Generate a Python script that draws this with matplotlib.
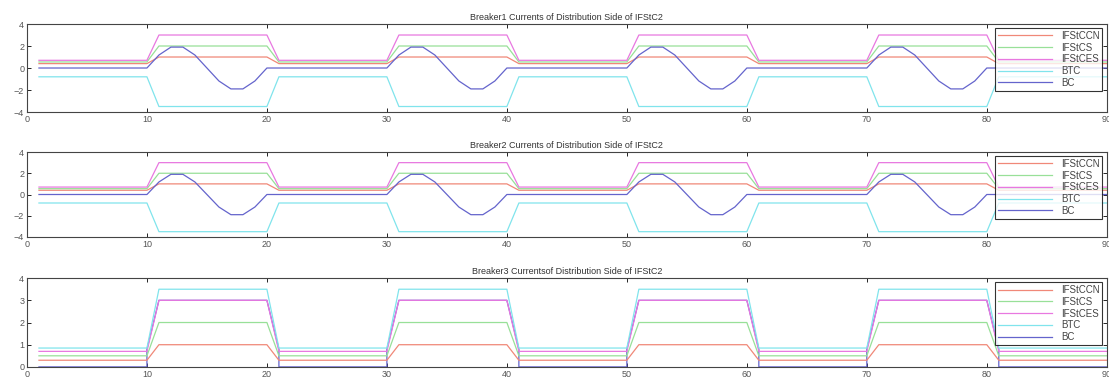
import numpy as np
import matplotlib.pyplot as plt

plt.rcParams['font.family'] = ['Liberation Sans', 'DejaVu Sans']

# breakpoints of the square-ish pulses (time axis)
t_pts = [1, 10, 11, 20, 21, 30, 31, 40, 41, 50, 51, 60, 61, 70, 71, 80, 81, 90]

# Breaker1 / Breaker2 (same shape)
b1_ccn = [0.4, 0.4, 1, 1, 0.4, 0.4, 1, 1, 0.4, 0.4, 1, 1, 0.4, 0.4, 1, 1, 0.4, 0.4]
b1_cs = [0.55, 0.55, 2, 2, 0.55, 0.55, 2, 2, 0.55, 0.55, 2, 2, 0.55, 0.55, 2, 2, 0.55, 0.55]
b1_ces = [0.7, 0.7, 3, 3, 0.7, 0.7, 3, 3, 0.7, 0.7, 3, 3, 0.7, 0.7, 3, 3, 0.7, 0.7]
b1_btc = [-0.8, -0.8, -3.5, -3.5, -0.8, -0.8, -3.5, -3.5, -0.8, -0.8, -3.5, -3.5,
          -0.8, -0.8, -3.5, -3.5, -0.8, -0.8]
# BC: sine-like burst sampled every 1 unit, inside each pulse
bc_pulse = [0, 1.18, 1.9, 1.9, 1.18, 0, -1.18, -1.9, -1.9, -1.18, 0]
pulse_starts = [10, 30, 50, 70]

# Breaker3
b3_ccn = [0.3, 0.3, 1, 1, 0.3, 0.3, 1, 1, 0.3, 0.3, 1, 1, 0.3, 0.3, 1, 1, 0.3, 0.3]
b3_cs = [0.5, 0.5, 2, 2, 0.5, 0.5, 2, 2, 0.5, 0.5, 2, 2, 0.5, 0.5, 2, 2, 0.5, 0.5]
b3_ces = [0.7, 0.7, 3, 3, 0.7, 0.7, 3, 3, 0.7, 0.7, 3, 3, 0.7, 0.7, 3, 3, 0.7, 0.7]
b3_btc = [0.85, 0.85, 3.5, 3.5, 0.85, 0.85, 3.5, 3.5, 0.85, 0.85, 3.5, 3.5,
          0.85, 0.85, 3.5, 3.5, 0.85, 0.85]
b3_bc_t = [1, 10, 10, 11, 20, 21, 21, 30, 30, 31, 40, 41, 41, 50, 50, 51, 60, 61, 61,
           70, 70, 71, 80, 81, 81, 90]
b3_bc = [0, 0, 0.8, 3, 3, 0.8, 0, 0, 0.8, 3, 3, 0.8, 0, 0, 0.8, 3, 3, 0.8, 0,
         0, 0.8, 3, 3, 0.8, 0, 0]

labels = ['IFStCCN', 'IFStCS', 'IFStCES', 'BTC', 'BC']
colors = ['#f08878', '#98e098', '#e878e0', '#80e4ec', '#6464cc']
titles = ['Breaker1 Currents of Distribution Side of IFStC2',
          'Breaker2 Currents of Distribution Side of IFStC2',
          'Breaker3 Currentsof Distribution Side of IFStC2']

# build the BC burst series for breaker 1/2
bc_t = [1]
bc_v = [0]
for s in pulse_starts:
    for k, v in enumerate(bc_pulse):
        bc_t.append(s + k)
        bc_v.append(v)
bc_t.append(90)
bc_v.append(0)

fig = plt.figure(figsize=(11.09, 3.81), dpi=100)
boxes = [[0.0243, 0.706, 0.9737, 0.231],
         [0.0243, 0.378, 0.9737, 0.223],
         [0.0243, 0.037, 0.9737, 0.233]]

for i in range(3):
    ax = fig.add_axes(boxes[i])
    if i < 2:
        series = [(t_pts, b1_ccn), (t_pts, b1_cs), (t_pts, b1_ces), (t_pts, b1_btc), (bc_t, bc_v)]
        ax.set_ylim(-4, 4)
        ax.set_yticks([-4, -2, 0, 2, 4])
    else:
        series = [(t_pts, b3_ccn), (t_pts, b3_cs), (t_pts, b3_ces), (t_pts, b3_btc), (b3_bc_t, b3_bc)]
        ax.set_ylim(0, 4)
        ax.set_yticks([0, 1, 2, 3, 4])
    for j, (tx, vy) in enumerate(series):
        z = 1.8 if (i == 2 and j == 4) else 2
        ax.plot(tx, vy, color=colors[j], lw=0.9, label=labels[j], zorder=z)
    ax.set_xlim(0, 90)
    ax.set_xticks(range(0, 91, 10))
    ax.tick_params(direction='in', top=True, right=True, length=3, width=0.6,
                   labelsize=6.5, labelcolor='#555555', pad=2)
    for sp in ax.spines.values():
        sp.set_linewidth(0.8)
        sp.set_color('#444444')
    ax.set_title(titles[i], fontsize=6.5, color='#333333', pad=3)
    leg = ax.legend(loc='upper right', bbox_to_anchor=(0.996, 0.955), fontsize=7,
                    frameon=True, fancybox=False, borderaxespad=0, handlelength=5.6,
                    handletextpad=0.9, labelspacing=0.18, borderpad=0.3)
    leg.get_frame().set_edgecolor('black')
    leg.get_frame().set_linewidth(0.8)
    for txt in leg.get_texts():
        txt.set_color('#444444')

plt.savefig('out.png', dpi=100)
